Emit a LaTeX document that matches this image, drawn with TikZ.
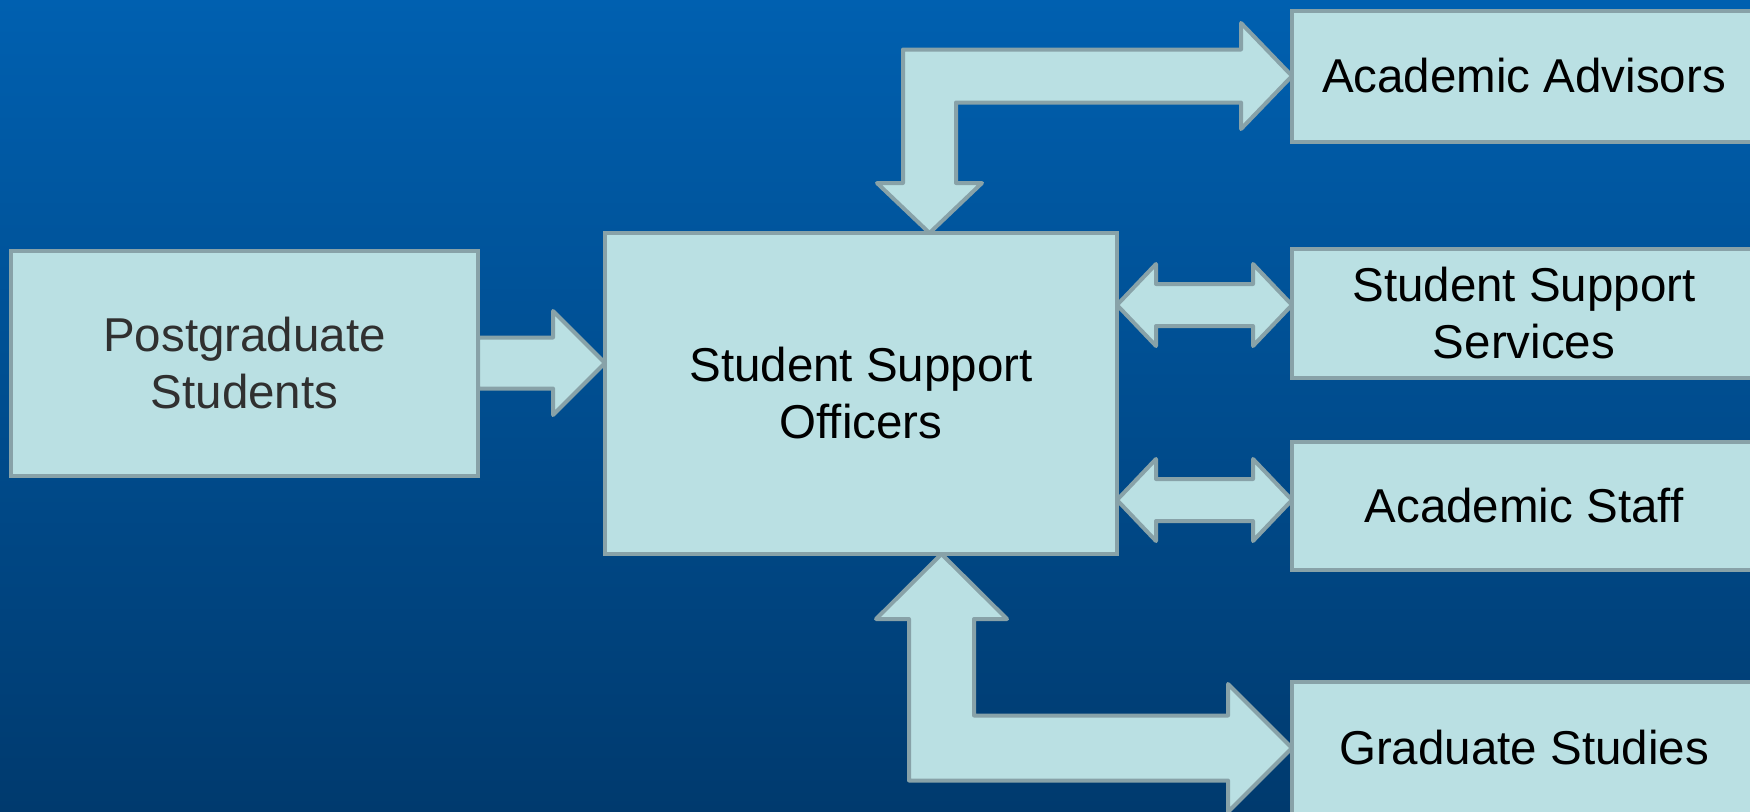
\documentclass[tikz,border=0pt]{standalone}
\usepackage{fontspec}
\setmainfont{Liberation Sans}
\usetikzlibrary{calc}
\definecolor{bgtop}{HTML}{0060B0}
\definecolor{bgbottom}{HTML}{003A6E}
\definecolor{boxfill}{HTML}{BAE0E3}
\definecolor{boxline}{HTML}{88A2A8}
\definecolor{pgtext}{HTML}{303030}
\begin{document}
\begin{tikzpicture}[x=1pt, y=-1pt]
  \useasboundingbox (0,0) rectangle (1750,811);
  \clip (0,0) rectangle (1750,811);
  \shade[top color=bgtop, bottom color=bgbottom] (0,0) rectangle (1750,811);
  \begin{scope}[every node/.style={draw=boxline, fill=boxfill, line width=4pt, outer sep=0pt, inner sep=0pt, align=center, font=\fontsize{47.5}{57}\selectfont}]
    \node[minimum width=467pt, minimum height=225pt, text=pgtext] (pg) at (244.5,363) {Postgraduate\\Students};
    \node[minimum width=512pt, minimum height=321pt] (sso) at (861,393.5) {Student Support\\Officers};
    \node[minimum width=464pt, minimum height=131pt] (adv) at (1524,76) {Academic Advisors};
    \node[minimum width=464pt, minimum height=129pt] (sss) at (1524,313.5) {Student Support\\Services};
    \node[minimum width=464pt, minimum height=128pt] (staff) at (1524,506) {Academic Staff};
    \node[minimum width=464pt, minimum height=132pt] (grad) at (1524,748) {Graduate Studies};
  \end{scope}
  \coordinate (topbend) at (929.5,76);
  \coordinate (botbend) at (941.5,748);
  \coordinate (midA) at (1204.5,305);
  \coordinate (midB) at (1204.5,500);
  \coordinate (tipA) at (sso.west |- pg.east);
  \coordinate (tipT) at (topbend |- sso.north);
  \coordinate (tipB) at (botbend |- sso.south);
  \begin{scope}[every path/.style={draw=boxline, fill=boxfill, line width=4pt, line join=round}]
    % students in
    \path ($(pg.east)+(0,-25.5)$) -- ($(tipA)+(-52,-25.5)$) -- ($(tipA)+(-52,-52)$) -- (tipA)
      -- ($(tipA)+(-52,52)$) -- ($(tipA)+(-52,25.5)$) -- ($(pg.east)+(0,25.5)$) -- cycle;
    % advisors
    \path ($(tipT)+(-26.5,-50)$) -- ($(tipT)+(-52.5,-50)$) -- (tipT) -- ($(tipT)+(52.5,-50)$)
      -- ($(tipT)+(26.5,-50)$) -- ($(topbend)+(26.5,26.5)$) -- ($(adv.west)+(-51,26.5)$)
      -- ($(adv.west)+(-51,53)$) -- (adv.west) -- ($(adv.west)+(-51,-53)$)
      -- ($(adv.west)+(-51,-26.5)$) -- ($(topbend)+(-26.5,-26.5)$) -- cycle;
    % support services
    \path (sso.east |- midA) -- ++(39,-41) -- ++(0,20) -- ($(sss.west |- midA)+(-39,-21)$)
      -- ($(sss.west |- midA)+(-39,-41)$) -- (sss.west |- midA) -- ($(sss.west |- midA)+(-39,41)$)
      -- ($(sss.west |- midA)+(-39,21)$) -- ($(sso.east |- midA)+(39,21)$)
      -- ($(sso.east |- midA)+(39,41)$) -- cycle;
    % academic staff
    \path (sso.east |- midB) -- ++(39,-41) -- ++(0,20) -- ($(staff.west |- midB)+(-39,-21)$)
      -- ($(staff.west |- midB)+(-39,-41)$) -- (staff.west |- midB) -- ($(staff.west |- midB)+(-39,41)$)
      -- ($(staff.west |- midB)+(-39,21)$) -- ($(sso.east |- midB)+(39,21)$)
      -- ($(sso.east |- midB)+(39,41)$) -- cycle;
    % graduate studies
    \path ($(tipB)+(-32.5,65)$) -- ($(tipB)+(-65.5,65)$) -- (tipB) -- ($(tipB)+(65.5,65)$)
      -- ($(tipB)+(32.5,65)$) -- ($(botbend)+(32.5,-32.5)$) -- ($(grad.west)+(-64,-32.5)$)
      -- ($(grad.west)+(-64,-64)$) -- (grad.west) -- ($(grad.west)+(-64,64)$)
      -- ($(grad.west)+(-64,32.5)$) -- ($(botbend)+(-32.5,32.5)$) -- cycle;
  \end{scope}
\end{tikzpicture}
\end{document}
